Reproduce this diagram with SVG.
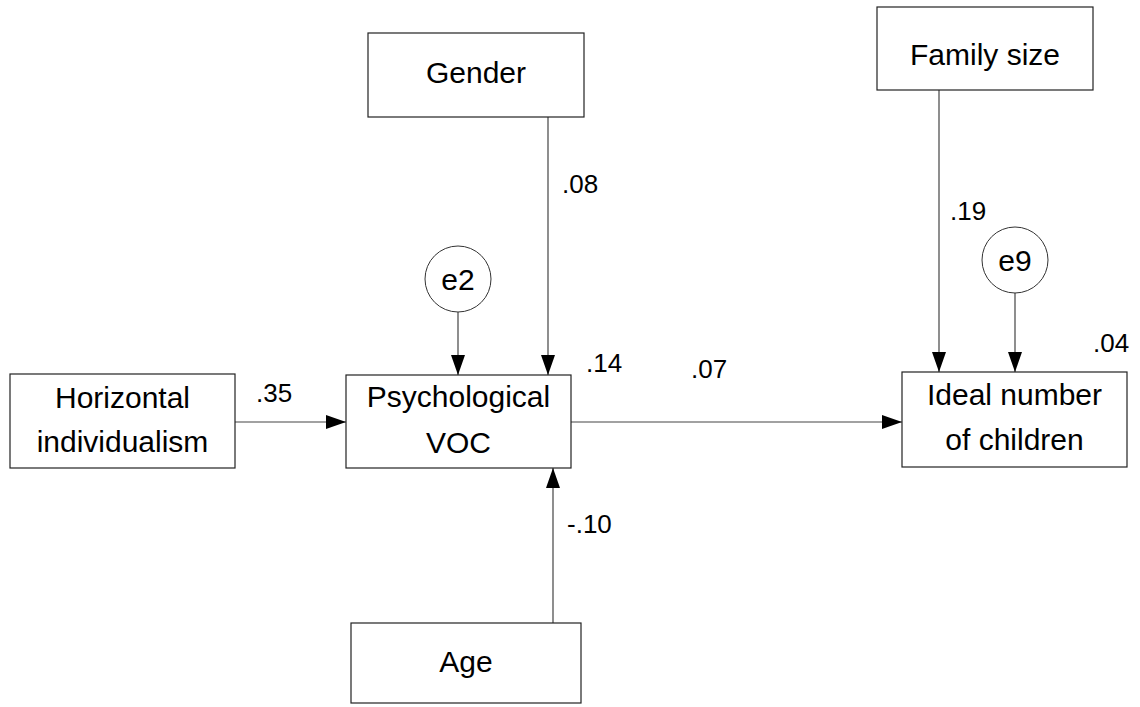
<svg xmlns="http://www.w3.org/2000/svg" width="1140" height="707" viewBox="0 0 1140 707">
<style>
.box{fill:#fff;stroke:#222;stroke-width:1.2}
.lat{fill:#fff;stroke:#333;stroke-width:1}
.t{font-family:"Liberation Sans",Arial,sans-serif;font-size:30px;fill:#000;text-anchor:middle}
.l{font-family:"Liberation Sans",Arial,sans-serif;font-size:26px;fill:#000}
.c{stroke:#444;stroke-width:1.2;fill:none;marker-end:url(#ah)}
</style>
<defs>
<marker id="ah" markerUnits="userSpaceOnUse" markerWidth="20" markerHeight="16" viewBox="0 0 20 16" refX="20" refY="8" orient="auto">
<path d="M0,1 L20,8 L0,15 Z" fill="#000"/>
</marker>
</defs>
<rect width="1140" height="707" fill="#fff"/>
<g id="connectors">
<line class="c" x1="235" y1="422" x2="346" y2="422"/>
<line class="c" x1="548" y1="117" x2="548" y2="375"/>
<line class="c" x1="458" y1="312" x2="458" y2="375"/>
<line class="c" x1="553" y1="623" x2="553" y2="468"/>
<line class="c" x1="571" y1="422" x2="902" y2="422"/>
<line class="c" x1="939" y1="90" x2="939" y2="372"/>
<line class="c" x1="1015" y1="293" x2="1015" y2="372"/>
<text class="l" x="256" y="402">.35</text>
<text class="l" x="562" y="193">.08</text>
<text class="l" x="586" y="372">.14</text>
<text class="l" x="691" y="378">.07</text>
<text class="l" x="567" y="533">-.10</text>
<text class="l" x="950" y="220">.19</text>
<text class="l" x="1093" y="352">.04</text>
</g>
<g id="horizontal">
<rect class="box" x="10" y="374" width="225" height="94"/>
<text class="t" x="122.5" y="408">Horizontal</text>
<text class="t" x="122.5" y="452">individualism</text>
</g>
<g id="psych">
<rect class="box" x="346" y="375" width="225" height="93"/>
<text class="t" x="458.5" y="407">Psychological</text>
<text class="t" x="458.5" y="453">VOC</text>
</g>
<g id="gender">
<rect class="box" x="368" y="33" width="216" height="84"/>
<text class="t" x="476" y="83">Gender</text>
</g>
<g id="age">
<rect class="box" x="351" y="623" width="230" height="80"/>
<text class="t" x="466" y="672">Age</text>
</g>
<g id="family">
<rect class="box" x="877" y="7" width="216" height="83"/>
<text class="t" x="985" y="65">Family size</text>
</g>
<g id="ideal">
<rect class="box" x="902" y="372" width="225" height="95"/>
<text class="t" x="1014.5" y="405">Ideal number</text>
<text class="t" x="1014.5" y="450">of children</text>
</g>
<g id="e2">
<circle class="lat" cx="458" cy="279" r="33"/>
<text class="t" x="458" y="290">e2</text>
</g>
<g id="e9">
<circle class="lat" cx="1015" cy="260" r="33"/>
<text class="t" x="1015" y="271">e9</text>
</g>
</svg>
